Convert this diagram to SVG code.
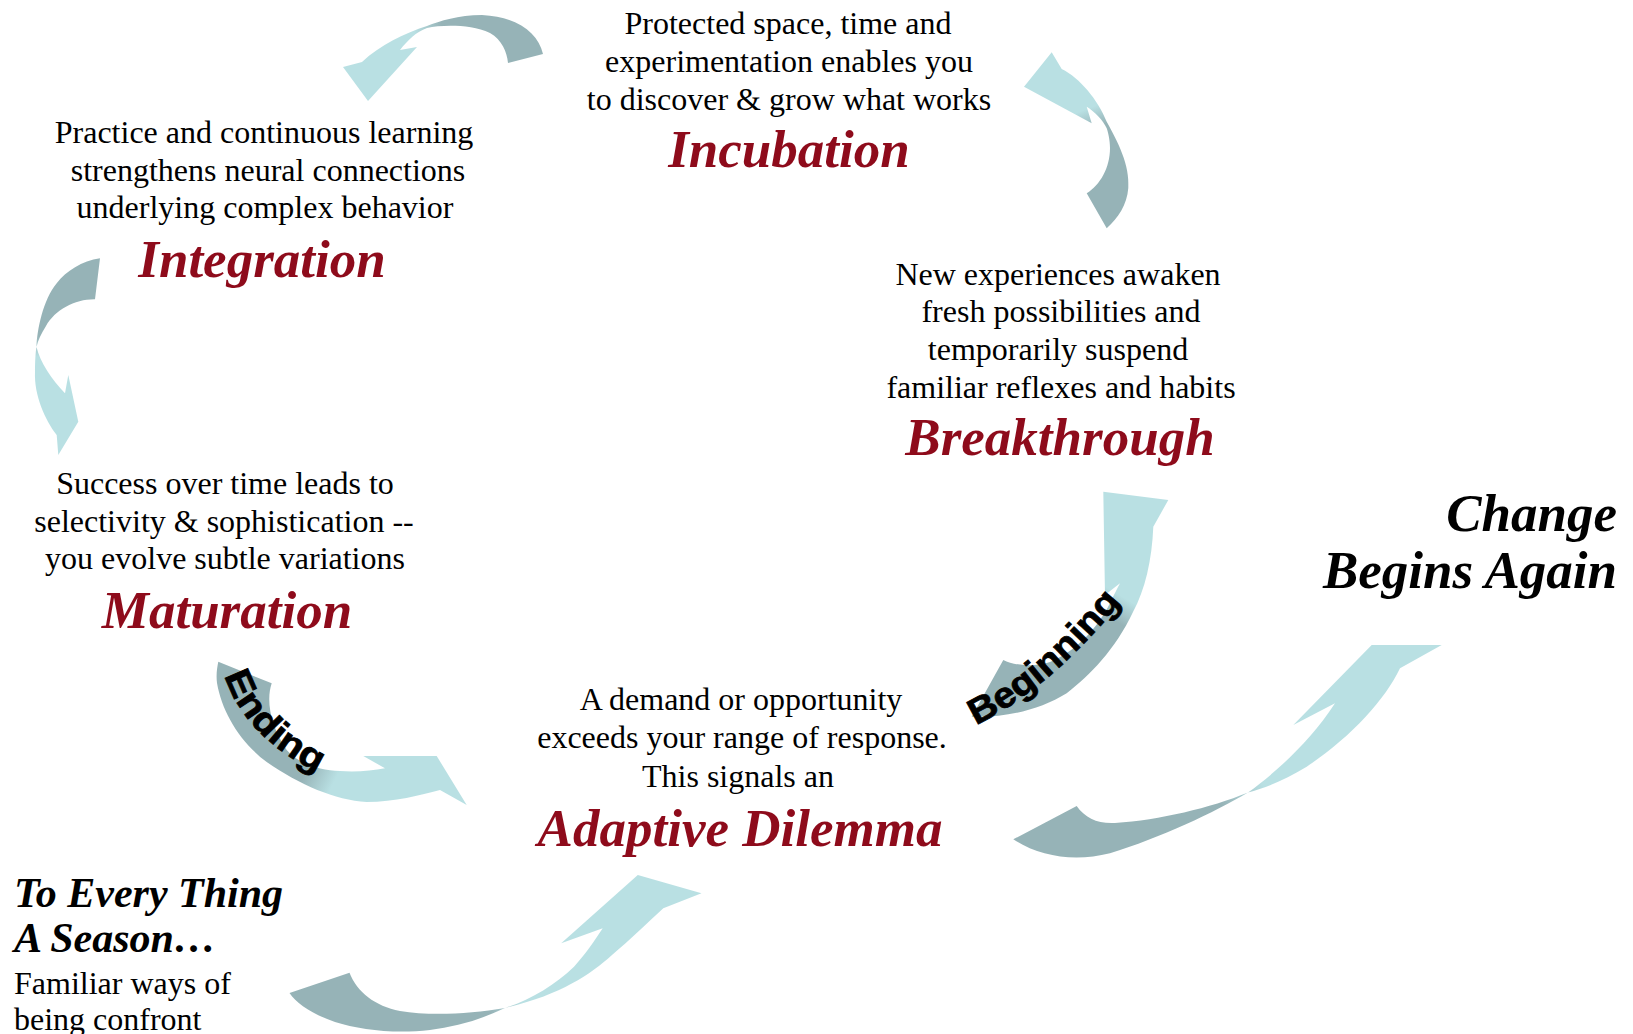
<svg xmlns="http://www.w3.org/2000/svg" width="1633" height="1034" viewBox="0 0 1633 1034">
<style>
.body{font-family:"Liberation Serif","Times New Roman",serif;font-size:32px;fill:#000;text-anchor:middle}
.title{font-family:"Liberation Serif","Times New Roman",serif;font-size:53px;font-weight:bold;font-style:italic;fill:#8e0b1b;text-anchor:middle}
.big{font-family:"Liberation Serif","Times New Roman",serif;font-weight:bold;font-style:italic;fill:#000}
.lbl{font-family:"Liberation Sans",Arial,sans-serif;font-weight:bold;font-size:36px;fill:#000;stroke:#000;stroke-width:0.8}
</style>
<defs>
<linearGradient id="g1" gradientUnits="userSpaceOnUse" x1="525" y1="40" x2="370" y2="70"><stop offset="0.5" stop-color="#96b3b7"/><stop offset="0.68" stop-color="#b9e0e3"/></linearGradient>
<linearGradient id="g2" gradientUnits="userSpaceOnUse" x1="1060" y1="70" x2="1110" y2="200"><stop offset="0.33" stop-color="#b9e0e3"/><stop offset="0.48" stop-color="#96b3b7"/></linearGradient>
<linearGradient id="g3" gradientUnits="userSpaceOnUse" x1="60" y1="270" x2="60" y2="420"><stop offset="0.44" stop-color="#96b3b7"/><stop offset="0.58" stop-color="#b9e0e3"/></linearGradient>
<linearGradient id="g4" gradientUnits="userSpaceOnUse" x1="240" y1="700" x2="420" y2="790"><stop offset="0.45" stop-color="#96b3b7"/><stop offset="0.6" stop-color="#b9e0e3"/></linearGradient>
<linearGradient id="g5" gradientUnits="userSpaceOnUse" x1="1130" y1="540" x2="1040" y2="690"><stop offset="0.3" stop-color="#b9e0e3"/><stop offset="0.44" stop-color="#96b3b7"/></linearGradient>
<linearGradient id="g6" gradientUnits="userSpaceOnUse" x1="400" y1="1015" x2="620" y2="930"><stop offset="0.36" stop-color="#96b3b7"/><stop offset="0.5" stop-color="#b9e0e3"/></linearGradient>
<linearGradient id="g7" gradientUnits="userSpaceOnUse" x1="1050" y1="840" x2="1380" y2="690"><stop offset="0.47" stop-color="#96b3b7"/><stop offset="0.6" stop-color="#b9e0e3"/></linearGradient>
<path id="pEnd" d="M 221,662 C 231,706 262,752 340,782"/>
<path id="pBeg" d="M 976,725 Q 1050,690 1126,596"/>
</defs>
<rect width="1633" height="1034" fill="#fff"/>
<g id="connectors">
<path id="arrow-incubation-integration" fill="url(#g1)" d="M 543,54 C 538,33 518,17 482,15 C 458,15 440,21 427,26 C 405,33 380,45 362,62 L 343,67 L 368,101 L 417,47 L 400,50 C 408,40 416,32 427,28 C 442,25 470,24 490,33 C 502,40 507,52 508,63 Z"/>
<path id="arrow-breakthrough-incubation" fill="url(#g2)" d="M 1051.7,52.3 L 1061.7,69 C 1080,78 1098,100 1106.7,121.7 C 1118,142 1130,165 1128.3,188 C 1127,205 1118,218 1106.7,228.3 L 1086.7,193.3 C 1100,185 1110,168 1110,148 C 1110,140 1108,132 1106.7,128.3 C 1103,120 1095,112 1086.7,106.7 L 1091.7,123.3 L 1024,86.7 Z"/>
<path id="arrow-integration-maturation" fill="url(#g3)" d="M 100,258.3 L 95,299.3 C 75,299 55,310 46,326 C 41,334 38,340 36.5,347 C 40,362 52,380 65,393.3 L 68.3,375 L 78.3,421.7 L 58.3,455 L 56.7,435 C 45,420 34,395 35,372 C 35,362 35.5,352 36.5,347 C 37,330 43,300 56.7,283.3 C 66,271 82,261 100,258.3 Z"/>
<path id="arrow-ending" fill="url(#g4)" d="M 218.3,661.7 L 271.7,683.3 C 266,700 270,725 286.7,750 C 300,765 320,770 340,771 C 355,772 372,771 385,768.3 L 363.3,756 L 436.7,756 L 466.7,805 L 440,790 C 420,795 395,802 366.7,802 C 335,800 300,785 266.7,762 C 240,742 222,712 217,683 C 216,675 217,668 218.3,661.7 Z"/>
<path id="arrow-beginning" fill="url(#g5)" d="M 1103.3,491.7 L 1168.3,500 L 1153.3,526.7 C 1152,560 1145,590 1133,612 C 1115,650 1090,675 1066.7,693.3 C 1040,710 1005,718 971.7,716.7 L 1003.3,660 C 1015,666 1035,667 1050,662 C 1075,652 1098,628 1110,603 C 1114,595 1117,589 1120,583.3 L 1105,595 Z"/>
<path id="arrow-season-dilemma" fill="url(#g6)" d="M 289.5,993 L 349.5,972.7 C 357,992 375,1006 400,1011 C 430,1016 470,1014 505,1008 C 530,1000 555,985 574,966.7 C 585,955 595,940 602.7,928.3 L 561.2,943.3 L 637.8,875 L 701.5,893.3 L 663.3,908.3 C 645,925 630,940 612,955 C 590,975 560,995 505,1008 C 480,1020 455,1027 430,1030 C 395,1034 360,1030 335,1022 C 312,1014 297,1004 289.5,993 Z"/>
<path id="arrow-change-again" fill="url(#g7)" d="M 1013.3,839.3 L 1076.7,806 C 1085,818 1098,824 1115,823 C 1160,820 1210,808 1248,792.5 C 1275,773 1310,742 1335,703.3 L 1293.3,725 L 1371.7,645 L 1441.7,645 L 1400,668.3 C 1385,700 1350,738 1306.7,766.7 C 1285,780 1265,788 1248,792.5 C 1215,812 1160,838 1110,853.3 C 1075,862 1040,857 1013.3,839.3 Z"/>
<text class="lbl" textLength="138" lengthAdjust="spacingAndGlyphs"><textPath href="#pEnd" startOffset="14">Ending</textPath></text>
<text class="lbl" textLength="192" lengthAdjust="spacingAndGlyphs"><textPath href="#pBeg">Beginning</textPath></text>
</g>
<g id="incubation">
<text class="body" x="788" y="34">Protected space, time and</text>
<text class="body" x="789" y="72">experimentation enables you</text>
<text class="body" x="789" y="110">to discover &amp; grow what works</text>
<text class="title" x="789" y="167">Incubation</text>
</g>
<g id="integration">
<text class="body" x="264" y="143">Practice and continuous learning</text>
<text class="body" x="268" y="181">strengthens neural connections</text>
<text class="body" x="265" y="218">underlying complex behavior</text>
<text class="title" x="262" y="277">Integration</text>
</g>
<g id="maturation">
<text class="body" x="225" y="494">Success over time leads to</text>
<text class="body" x="224" y="532">selectivity &amp; sophistication --</text>
<text class="body" x="225" y="569">you evolve subtle variations</text>
<text class="title" x="227" y="628">Maturation</text>
</g>
<g id="breakthrough">
<text class="body" x="1058" y="285">New experiences awaken</text>
<text class="body" x="1061" y="322">fresh possibilities and</text>
<text class="body" x="1058" y="360">temporarily suspend</text>
<text class="body" x="1061" y="398">familiar reflexes and habits</text>
<text class="title" x="1060" y="455">Breakthrough</text>
</g>
<g id="adaptive-dilemma">
<text class="body" x="741" y="710">A demand or opportunity</text>
<text class="body" x="742" y="748">exceeds your range of response.</text>
<text class="body" x="738" y="787">This signals an</text>
<text class="title" x="740" y="846">Adaptive Dilemma</text>
</g>
<g id="change-begins-again">
<text class="big" x="1617" y="531" font-size="53" text-anchor="end">Change</text>
<text class="big" x="1617" y="588" font-size="53" text-anchor="end">Begins Again</text>
</g>
<g id="to-every-thing">
<text class="big" x="14" y="907" font-size="42">To Every Thing</text>
<text class="big" x="14" y="952" font-size="42">A Season…</text>
<text class="body" x="14" y="994" style="text-anchor:start">Familiar ways of</text>
<text class="body" x="14" y="1030" style="text-anchor:start">being confront</text>
</g>
</svg>
